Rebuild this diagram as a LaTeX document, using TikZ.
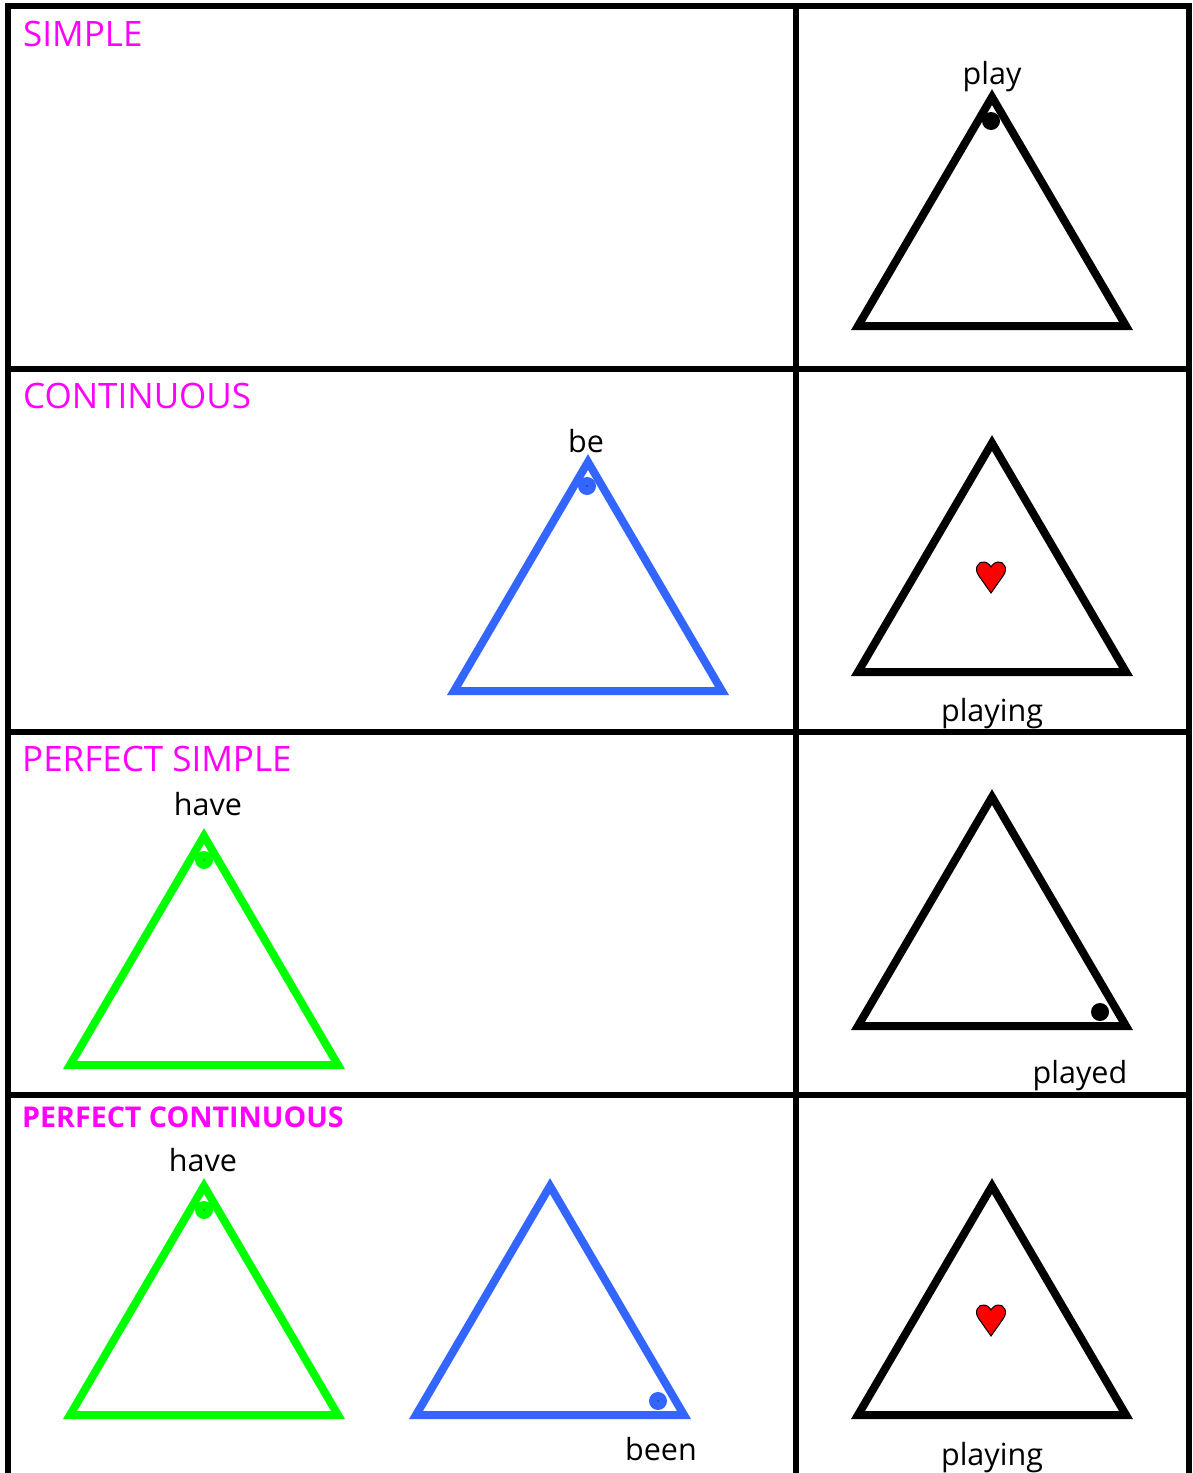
\documentclass[tikz,border=0pt]{standalone}
\usepackage{fontspec}
\setmainfont{Open Sans}
\definecolor{tensepink}{RGB}{255,0,255}
\definecolor{beblue}{RGB}{51,102,255}
\definecolor{havegreen}{RGB}{0,255,0}
\tikzset{
    tense/.style={anchor=base west, inner sep=0pt, text=tensepink, font=\fontsize{35}{35}\selectfont},
    tensebold/.style={anchor=base west, inner sep=0pt, text=tensepink, font=\fontsize{28.6}{28.6}\selectfont\bfseries},
    verb/.style={anchor=base, inner sep=0pt, text=black, font=\fontsize{30.5}{30.5}\selectfont},
    tri/.style={line width=8pt, miter limit=10},
    grid/.style={line width=6pt, black}
}
\newcommand{\tri}[3]{\draw[tri, #3] (#1-134,#2) -- (#1,#2-229) -- (#1+134,#2) -- cycle;}
\newcommand{\dotmark}[3]{\fill[#3] (#1,#2) circle (9); \fill[black] (#1,#2) circle (0.6);}
\newcommand{\heart}[2]{\draw[fill=red, line width=1pt] (#1,#2+16) -- (#1-12,#2-1) .. controls (#1-18,#2-9) and (#1-12,#2-16) .. (#1-7,#2-15) .. controls (#1-4,#2-15) and (#1-1,#2-12) .. (#1,#2-10) .. controls (#1+1,#2-12) and (#1+4,#2-15) .. (#1+7,#2-15) .. controls (#1+12,#2-16) and (#1+18,#2-9) .. (#1+12,#2-1) -- cycle;}
\begin{document}
\begin{tikzpicture}[x=1pt, y=-1pt]
    \useasboundingbox (0,0) rectangle (1192,1473);
    \fill[white] (0,0) rectangle (1192,1473);

    % Grid
    \draw[grid] (8,1473) -- (8,6) -- (1189,6) -- (1189,1473);
    \draw[grid] (795.5,6) -- (795.5,1473);
    \foreach \y in {368.5,731.5,1094.5}
        \draw[grid] (8,\y) -- (1189,\y);

    % Tenses
    \node[tense] (simple) at (23,46) {SIMPLE};
    \node[tense] (continuous) at (23,408) {CONTINUOUS};
    \node[tense] (perfectsimple) at (22,771) {PERFECT SIMPLE};
    \node[tensebold] (perfectcont) at (22,1127) {PERFECT CONTINUOUS};

    % Triangles
    \foreach \y in {326,672,1026,1415}
        \tri{992}{\y}{black};
    \tri{588}{691}{beblue};
    \tri{204}{1065}{havegreen};
    \tri{204}{1415}{havegreen};
    \tri{550}{1415}{beblue};

    % Dots
    \fill[black] (991,121) circle (9);
    \fill[black] (1100,1012) circle (9);
    \dotmark{587}{486}{beblue};
    \dotmark{204}{860}{havegreen};
    \dotmark{204}{1210}{havegreen};
    \dotmark{658}{1401}{beblue};

    % Hearts
    \heart{991}{577};
    \heart{991}{1320};

    % Verbs
    \node[verb] (play) at (992,84) {play};
    \node[verb] (be) at (586,452) {be};
    \node[verb] (playing) at (992,721) {playing};
    \node[verb] (have) at (208,815) {have};
    \node[verb] (played) at (1080,1083) {played};
    \node[verb] (haveb) at (203,1171) {have};
    \node[verb] (been) at (661,1460) {been};
    \node[verb] (playingb) at (992,1465) {playing};
\end{tikzpicture}
\end{document}
